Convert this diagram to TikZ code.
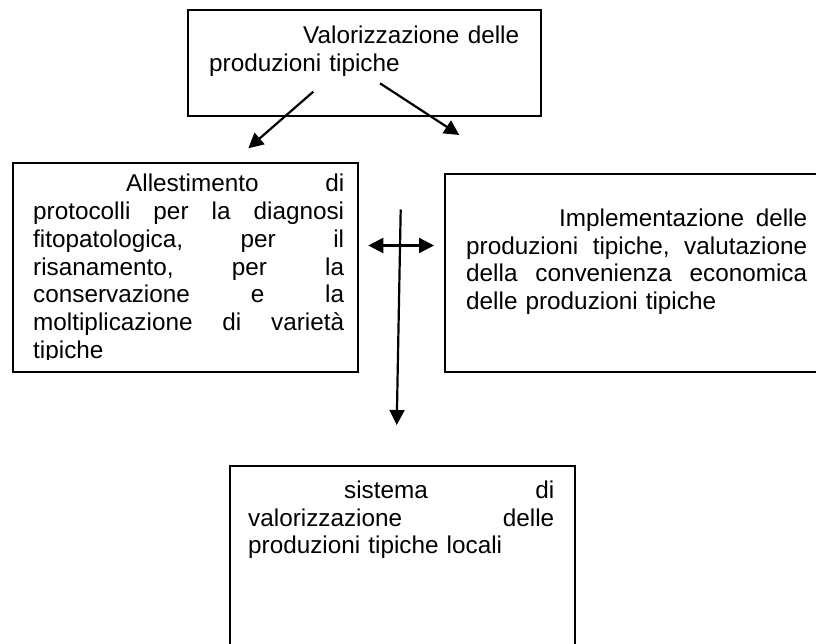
\documentclass[tikz,border=0pt]{standalone}
\usepackage{fontspec}
\setmainfont{Liberation Sans}
\usetikzlibrary{arrows.meta}
\newcommand\jl[1]{\hbox to \hsize{#1}\par}
\newcommand\jlast[1]{\hbox{#1}\par}
\begin{document}
\begin{tikzpicture}[x=1pt,y=-1pt,
  box/.style={draw,line width=2pt,rectangle,inner sep=0pt},
  txt/.style={inner sep=0pt,anchor=base west,font=\fontsize{24.3pt}{27.7pt}\selectfont},
  conn/.style={line width=2.2pt,-{Triangle[length=15pt,width=15pt]}},
  dconn/.style={line width=2.2pt,{Triangle[length=15pt,width=15pt]}-{Triangle[length=15pt,width=15pt]}}]
\useasboundingbox (0,0) rectangle (816,644);
% boxes
\node[box,minimum width=353pt,minimum height=106pt] (top) at (364.5,63) {};
\node[box,minimum width=345.5pt,minimum height=209pt] (left) at (185.25,267.5) {};
\node[box,minimum width=385pt,minimum height=198pt] (right) at (637.5,273) {};
\node[box,minimum width=345.5pt,minimum height=210pt] (bottom) at (402.25,571) {};
% texts
\node[txt,text width=310pt] (topt) at (209,44) {%
\jl{\hskip94pt\relax Valorizzazione\hfill delle}%
\jlast{produzioni tipiche}};
\begin{scope}
\clip (12,163) rectangle (358,359.5);
\node[txt,text width=311pt] (leftt) at (33,192) {%
\jl{\hskip93pt\relax Allestimento\hfill di}%
\jl{protocolli\hfill per\hfill la\hfill diagnosi}%
\jl{fitopatologica,\hfill per\hfill il}%
\jl{risanamento,\hfill per\hfill la}%
\jl{conservazione\hfill e\hfill la}%
\jl{moltiplicazione\hfill di\hfill varietà}%
\jlast{tipiche}};
\end{scope}
\node[txt,text width=341pt] (rightt) at (466,226.5) {%
\jl{\hskip93pt\relax Implementazione\hfill delle}%
\jl{produzioni\hfill tipiche,\hfill valutazione}%
\jl{della\hfill convenienza\hfill economica}%
\jlast{delle produzioni tipiche}};
\node[txt,text width=306pt] (bottomt) at (248,498.3) {%
\jl{\hskip96pt\relax sistema\hfill di}%
\jl{valorizzazione\hfill delle}%
\jlast{produzioni tipiche locali}};
% connectors
\coordinate (a1s) at (313.3,91.7);
\coordinate (a1e) at (248.3,148.3);
\coordinate (a2s) at (380,83.3);
\coordinate (a2e) at (459.3,135);
\coordinate (vs) at (400.7,209.5);
\coordinate (ve) at (396.7,425);
\coordinate (hl) at (368.3,245.5);
\coordinate (hr) at (434,245.5);
\draw[conn] (a1s) -- (a1e);
\draw[conn] (a2s) -- (a2e);
\draw[conn] (vs) -- (ve);
\draw[dconn] (hl) -- (hr);
\end{tikzpicture}
\end{document}
